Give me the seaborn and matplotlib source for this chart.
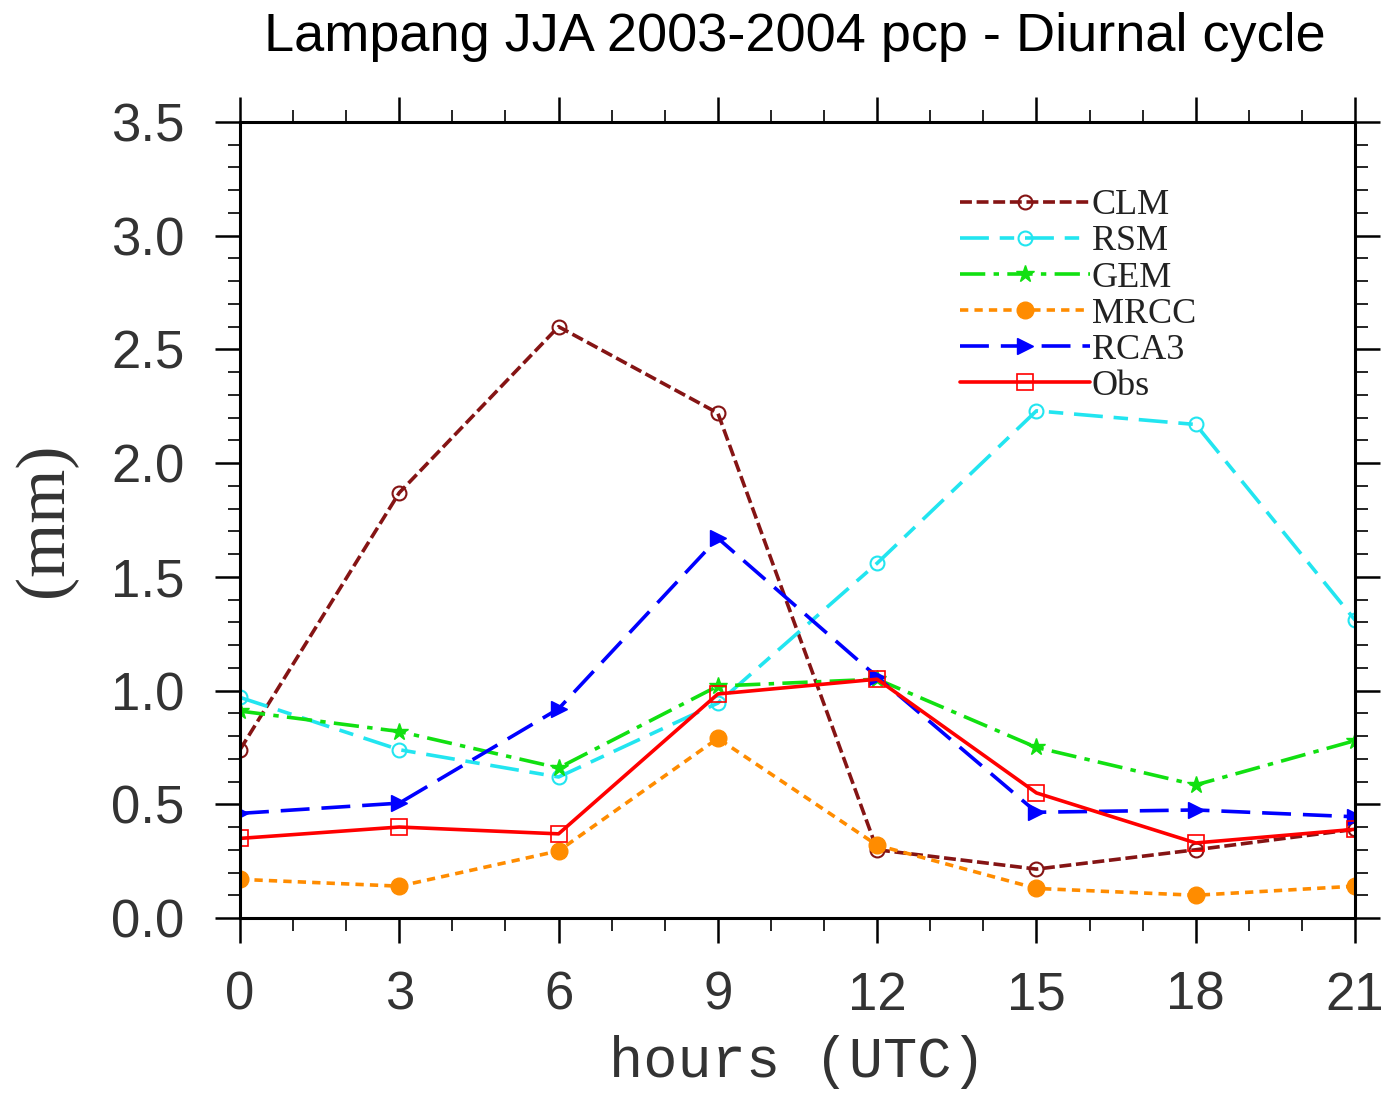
import numpy as np
import pandas as pd
import matplotlib
matplotlib.use("Agg")
import matplotlib.pyplot as plt
import seaborn as sns
from matplotlib.ticker import MultipleLocator

hours = [0, 3, 6, 9, 12, 15, 18, 21]
clm = [0.74, 1.87, 2.60, 2.22, 0.30, 0.215, 0.30, 0.39]
rsm = [0.97, 0.74, 0.62, 0.945, 1.56, 2.23, 2.17, 1.31]
gem = [0.91, 0.82, 0.66, 1.02, 1.05, 0.75, 0.585, 0.78]
mrcc = [0.17, 0.14, 0.295, 0.79, 0.32, 0.13, 0.10, 0.14]
rca3 = [0.46, 0.505, 0.92, 1.67, 1.06, 0.465, 0.475, 0.445]
obs = [0.35, 0.40, 0.37, 0.985, 1.05, 0.55, 0.33, 0.39]
series_names = ["CLM", "RSM", "GEM", "MRCC", "RCA3", "Obs"]
series_vals = [clm, rsm, gem, mrcc, rca3, obs]

title = "Lampang JJA 2003-2004 pcp - Diurnal cycle"
xlabel = "hours (UTC)"
ylabel = "(mm)"

sns.set_style("ticks")
plt.rcParams["font.family"] = ["Liberation Sans", "DejaVu Sans"]

styles = {
    "CLM": dict(color="#851414", marker="o", mfc="none", ms=10, mew=1.5, ls=(0, (3.3, 1.3))),
    "RSM": dict(color="#22e5f0", marker="o", mfc="none", ms=10, mew=1.5, ls=(0, (8, 3, 4, 3))),
    "GEM": dict(color="#11e011", marker="*", mfc="#11e011", ms=13, mew=1.0, ls=(0, (7, 2.3, 1.5, 2.3))),
    "MRCC": dict(color="#ff8c00", marker="o", mfc="#ff8c00", ms=12, mew=1.0, ls=(0, (2.3, 1.7))),
    "RCA3": dict(color="#0000ff", marker=">", mfc="#0000ff", ms=12, mew=1.0, ls=(0, (8, 3.3))),
    "Obs": dict(color="#ff0000", marker="s", mfc="none", ms=11, mew=1.2, ls="-"),
}

frames = []
for name, vals in zip(series_names, series_vals):
    frames.append(pd.DataFrame({"hour": hours, "value": vals, "model": name}))
df = pd.concat(frames, ignore_index=True)

fig = plt.figure(figsize=(13.84, 10.97), dpi=100)
ax = fig.add_axes([240 / 1384, 1 - 918 / 1097, (1355 - 240) / 1384, (918 - 122) / 1097])

for name in series_names:
    st = styles[name]
    sub = df[df["model"] == name]
    sns.lineplot(data=sub, x="hour", y="value", ax=ax, color=st["color"],
                 linestyle=st["ls"], linewidth=2.6, marker=st["marker"],
                 markersize=st["ms"], markerfacecolor=st["mfc"],
                 markeredgecolor=st["color"], markeredgewidth=st["mew"],
                 label=name, legend=False)

ax.set_xlim(0, 21)
ax.set_ylim(0, 3.5)
ax.xaxis.set_major_locator(MultipleLocator(3))
ax.xaxis.set_minor_locator(MultipleLocator(1))
ax.yaxis.set_major_locator(MultipleLocator(0.5))
ax.yaxis.set_minor_locator(MultipleLocator(0.1))
ax.yaxis.set_major_formatter(matplotlib.ticker.FormatStrFormatter("%.1f"))

for s in ax.spines.values():
    s.set_visible(True)
    s.set_linewidth(2.2)
    s.set_color("black")

ax.tick_params(axis="both", which="major", direction="out", length=18, width=1.8,
               top=True, right=True, labelsize=38, colors="black", pad=20)
ax.tick_params(axis="both", which="minor", direction="out", length=9, width=1.2,
               top=True, right=True, colors="black")
ax.tick_params(axis="y", which="major", pad=22)
for lab in ax.get_xticklabels() + ax.get_yticklabels():
    lab.set_color("#333333")

ax.set_xlabel(xlabel, fontsize=41, family=["Liberation Mono", "DejaVu Sans Mono"], color="#333333")
ax.set_ylabel(ylabel, fontsize=50, family=["Liberation Serif", "DejaVu Serif"], color="#333333")
ax.xaxis.set_label_coords(0.50, -0.181)
ax.xaxis.label.set_va("center")
ax.yaxis.set_label_coords(-0.175, 0.50)
ax.yaxis.label.set_va("center")

handles, labels = ax.get_legend_handles_labels()
leg = ax.legend(handles, labels, loc="upper left", bbox_to_anchor=((960 - 240) / 1115, (918 - 189) / 796),
                frameon=False, prop={"family": ["Liberation Serif", "DejaVu Serif"], "size": 26},
                handlelength=3.6, handletextpad=0.05, labelspacing=0.08, borderpad=0, borderaxespad=0)
for t in leg.get_texts():
    t.set_color("#222222")

fig.suptitle(title, x=795 / 1384, y=1 - 37 / 1097, va="center", fontsize=39, color="black")

fig.savefig("out.png", dpi=100, facecolor="white")
